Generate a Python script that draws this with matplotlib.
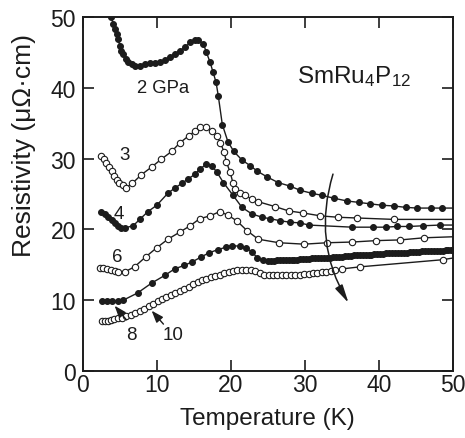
import matplotlib
matplotlib.use("Agg")
import matplotlib.pyplot as plt
from matplotlib.patches import FancyArrowPatch

plt.rcParams['font.family'] = ['Liberation Sans', 'DejaVu Sans']
plt.rcParams['mathtext.fontset'] = 'custom'
plt.rcParams['mathtext.rm'] = 'Liberation Sans'
plt.rcParams['mathtext.it'] = 'Liberation Sans'

# ---- data (T in K, resistivity in uOhm cm) ----
T_2 = [3.88, 4.1, 4.33, 4.56, 4.8, 5.0, 5.2, 5.45, 5.8, 6.1, 6.6, 7.0, 7.7, 8.4, 9.1, 9.7,
       10.4, 11.1, 11.8, 12.4, 13.1, 13.8, 14.5, 15.2, 15.6, 16.3, 16.7, 17.2, 17.6, 18.0,
       18.3, 18.85, 19.6, 20.4, 21.5, 22.6, 23.6, 24.9, 26.4, 28.0, 29.4, 30.9, 32.3, 33.9,
       35.7, 37.3, 38.8, 40.4, 42.0, 43.6, 45.2, 47.0, 48.5, 51.5]
R_2 = [49.95, 49.0, 48.3, 47.6, 46.9, 45.9, 45.2, 44.8, 44.1, 43.6, 43.4, 43.1, 43.1, 43.4,
       43.5, 43.5, 43.7, 43.9, 44.3, 44.8, 45.2, 45.7, 46.4, 46.8, 46.7, 46.2, 45.0, 43.6,
       42.2, 40.8, 38.9, 34.8, 32.4, 31.0, 29.8, 29.0, 28.2, 27.4, 26.6, 26.1, 25.5, 25.1,
       24.8, 24.4, 24.0, 23.8, 23.6, 23.4, 23.3, 23.1, 23.0, 23.0, 23.0, 23.0]

T_3 = [2.53, 2.85, 3.2, 3.55, 3.9, 4.23, 4.56, 4.95, 5.37, 5.9, 6.7, 7.9, 9.3, 10.6, 12.0,
       13.1, 14.3, 15.2, 15.8, 16.7, 17.4, 18.1, 18.6, 19.1, 19.4, 19.9, 20.3, 20.6, 21.2,
       21.9, 22.8, 23.7, 26.0, 27.8, 29.8, 32.1, 34.5, 37.0, 42.0, 51.5]
R_3 = [30.4, 29.9, 29.3, 28.8, 28.2, 27.6, 27.0, 26.6, 26.2, 25.9, 26.5, 27.7, 28.8, 29.9,
       31.0, 32.2, 33.2, 33.9, 34.5, 34.5, 33.9, 33.2, 32.2, 30.9, 29.5, 28.1, 26.5, 25.7,
       25.2, 24.8, 24.3, 23.9, 23.2, 22.6, 22.3, 21.9, 21.7, 21.6, 21.4, 21.4]

T_4 = [2.53, 3.0, 3.42, 3.9, 4.33, 4.8, 5.23, 5.68, 6.8, 7.7, 8.8, 10.0, 11.5, 12.4, 13.4,
       14.2, 15.2, 15.8, 16.7, 17.4, 18.1, 19.0, 20.3, 21.5, 22.8, 24.2, 25.3, 26.7, 28.0,
       29.4, 30.5, 36.4, 39.2, 40.9, 42.4, 44.1, 46.0, 48.3, 51.5]
R_4 = [22.5, 22.1, 21.7, 21.3, 20.9, 20.5, 20.2, 20.2, 20.5, 21.4, 22.5, 23.4, 25.1, 25.8,
       26.5, 27.1, 27.8, 28.5, 29.2, 29.0, 28.1, 26.6, 24.8, 23.1, 22.2, 21.7, 21.5, 21.2,
       21.0, 20.9, 20.6, 20.3, 20.3, 20.3, 20.4, 20.4, 20.5, 20.6, 20.6]

T_6 = [2.3, 2.8, 3.3, 3.8, 4.3, 4.7, 5.7, 7.0, 8.5, 10.0, 11.5, 13.1, 14.5, 15.8, 17.2,
       18.5, 19.6, 20.8, 22.2, 23.7, 26.5, 29.9, 33.0, 36.4, 39.6, 42.9, 46.1, 51.5]
R_6 = [14.5, 14.5, 14.4, 14.3, 14.1, 14.0, 14.0, 14.7, 16.1, 17.4, 18.6, 19.6, 20.5, 21.5,
       21.9, 22.5, 22.0, 21.2, 19.8, 18.6, 18.1, 17.9, 18.1, 18.2, 18.4, 18.5, 18.8, 19.0]

T_8 = [2.6, 3.3, 4.0, 4.7, 5.5, 7.4, 9.3, 11.1, 12.4, 13.7, 14.8, 16.0, 17.1, 18.2, 19.4,
       20.2, 21.2, 22.1, 22.9, 23.6, 24.3,
       25.0, 25.4, 25.8, 26.2, 26.6, 27.0, 27.4, 27.8, 28.2, 28.6, 29.0, 29.4, 29.8, 30.2,
       30.6, 31.0, 31.4, 31.8, 32.2, 32.6, 33.0, 33.4, 33.8, 34.2, 34.6, 35.0, 35.4, 35.8,
       36.2, 36.6, 37.0, 37.4, 37.8, 38.2, 38.6, 39.0, 39.4, 39.8, 40.2, 40.6, 41.0, 41.4,
       41.8, 42.2, 42.6, 43.0, 43.4, 43.8, 44.2, 44.6, 45.0, 45.4, 45.8, 46.2, 46.6, 47.0,
       47.4, 47.8, 48.2, 48.6, 49.0, 49.4, 49.8, 50.2]
R_8 = [9.9, 9.9, 9.9, 9.9, 10.0, 11.0, 12.4, 13.5, 14.4, 14.9, 15.4, 16.1, 16.7, 17.1, 17.5,
       17.7, 17.6, 17.3, 16.8, 15.9, 15.6,
       15.5, 15.5, 15.5, 15.6, 15.6, 15.6, 15.6, 15.7, 15.7, 15.7, 15.7, 15.8, 15.8, 15.8,
       15.8, 15.9, 15.9, 15.9, 15.9, 16.0, 16.0, 16.0, 16.1, 16.1, 16.1, 16.1, 16.2, 16.2,
       16.2, 16.3, 16.3, 16.3, 16.3, 16.4, 16.4, 16.4, 16.5, 16.5, 16.5, 16.5, 16.6, 16.6,
       16.6, 16.6, 16.7, 16.7, 16.7, 16.7, 16.8, 16.8, 16.8, 16.8, 16.9, 16.9, 16.9, 16.9,
       17.0, 17.0, 17.0, 17.0, 17.1, 17.1, 17.1, 17.1]

T_10 = [2.6, 3.0, 3.4, 3.8, 4.2, 4.7, 5.3, 5.9, 6.5, 7.1, 7.7, 8.3, 8.9, 9.5, 10.1, 10.7,
        11.3, 11.9, 12.5, 13.1, 13.7, 14.3, 14.9, 15.5, 16.1, 16.7, 17.3, 17.9, 18.5, 19.1,
        19.7, 20.3, 20.9, 21.5, 22.1, 22.7, 23.3, 23.9, 24.5, 25.1, 25.7, 26.3, 26.9, 27.5,
        28.1, 28.7, 29.3, 29.9, 30.5, 31.1, 31.7, 32.3, 32.9, 33.5, 34.1, 35.0, 37.5, 48.6, 51.5]
R_10 = [7.1, 7.1, 7.1, 7.2, 7.3, 7.4, 7.5, 7.7, 7.9, 8.2, 8.5, 8.8, 9.1, 9.5, 9.8, 10.1,
        10.4, 10.7, 11.0, 11.3, 11.6, 11.9, 12.2, 12.5, 12.8, 13.0, 13.2, 13.4, 13.6, 13.8,
        14.0, 14.1, 14.2, 14.3, 14.3, 14.3, 14.1, 13.8, 13.6, 13.5, 13.5, 13.5, 13.5, 13.5,
        13.6, 13.6, 13.6, 13.7, 13.7, 13.8, 13.8, 13.9, 14.0, 14.1, 14.2, 14.4, 14.7, 15.7, 16.2]

pressure_labels = ["2 GPa", "3", "4", "6", "8", "10"]
compound = r"SmRu$_{4}$P$_{12}$"
x_ticks = [0, 10, 20, 30, 40, 50]
y_ticks = [0, 10, 20, 30, 40, 50]

ink = "#1c1c1c"

fig = plt.figure(figsize=(4.65, 4.39), dpi=100)
ax = fig.add_axes([0.178, 0.153, 0.796, 0.806])

series = [(T_2, R_2, True), (T_3, R_3, False), (T_4, R_4, True),
          (T_6, R_6, False), (T_8, R_8, True), (T_10, R_10, False)]
for T, R, filled in series:
    ax.plot(T, R, '-', color=ink, lw=1.0, marker='o',
            ms=4.2 if filled else 4.6,
            mfc=ink if filled else 'white', mec=ink, mew=0.8, zorder=3)

ax.set_xlim(0, 50)
ax.set_ylim(0, 50)
ax.set_xticks(x_ticks)
ax.set_yticks(y_ticks)
ax.tick_params(direction='in', length=8, width=1.2, top=True, right=True,
               labelsize=16.5, colors=ink)
ax.tick_params(axis='x', pad=1.5)
ax.tick_params(axis='y', pad=5)
for s in ax.spines.values():
    s.set_linewidth(1.4)
    s.set_color(ink)

ax.set_xlabel("Temperature (K)", fontsize=17.5, color=ink, labelpad=8)
ax.set_ylabel("Resistivity (μΩ·cm)", fontsize=19, color=ink, va='center')
ax.yaxis.set_label_coords(-0.159, 0.641)

ax.text(10.8, 40.0, pressure_labels[0], fontsize=13.3, ha='center', va='center', color=ink)
ax.text(5.7, 30.6, pressure_labels[1], fontsize=13.5, ha='center', va='center', color=ink)
ax.text(4.9, 22.3, pressure_labels[2], fontsize=13.5, ha='center', va='center', color=ink)
ax.text(4.6, 16.1, pressure_labels[3], fontsize=13.5, ha='center', va='center', color=ink)
ax.text(6.6, 5.1, pressure_labels[4], fontsize=13.5, ha='center', va='center', color=ink)
ax.text(12.2, 5.1, pressure_labels[5], fontsize=13.5, ha='center', va='center', color=ink)
ax.text(36.7, 40.8, compound, fontsize=17.5, ha='center', va='baseline', color=ink)

# small pointer arrows
for (x0, y0), (x1, y1) in [((5.9, 7.2), (4.3, 9.2)), ((10.9, 6.6), (9.3, 8.5))]:
    ax.add_patch(FancyArrowPatch((x0, y0), (x1, y1),
                                 arrowstyle='-|>,head_length=0.6,head_width=0.22',
                                 mutation_scale=12, color=ink, lw=1.0, zorder=4,
                                 shrinkA=0, shrinkB=0))

# big curved arrow
ax.add_patch(FancyArrowPatch((33.8, 27.8), (35.9, 9.6),
                             connectionstyle='arc3,rad=0.22',
                             arrowstyle='-|>,head_length=1.1,head_width=0.25',
                             mutation_scale=10, color=ink, lw=1.1, zorder=4,
                             shrinkA=0, shrinkB=0))

fig.savefig("out.png", dpi=100)
